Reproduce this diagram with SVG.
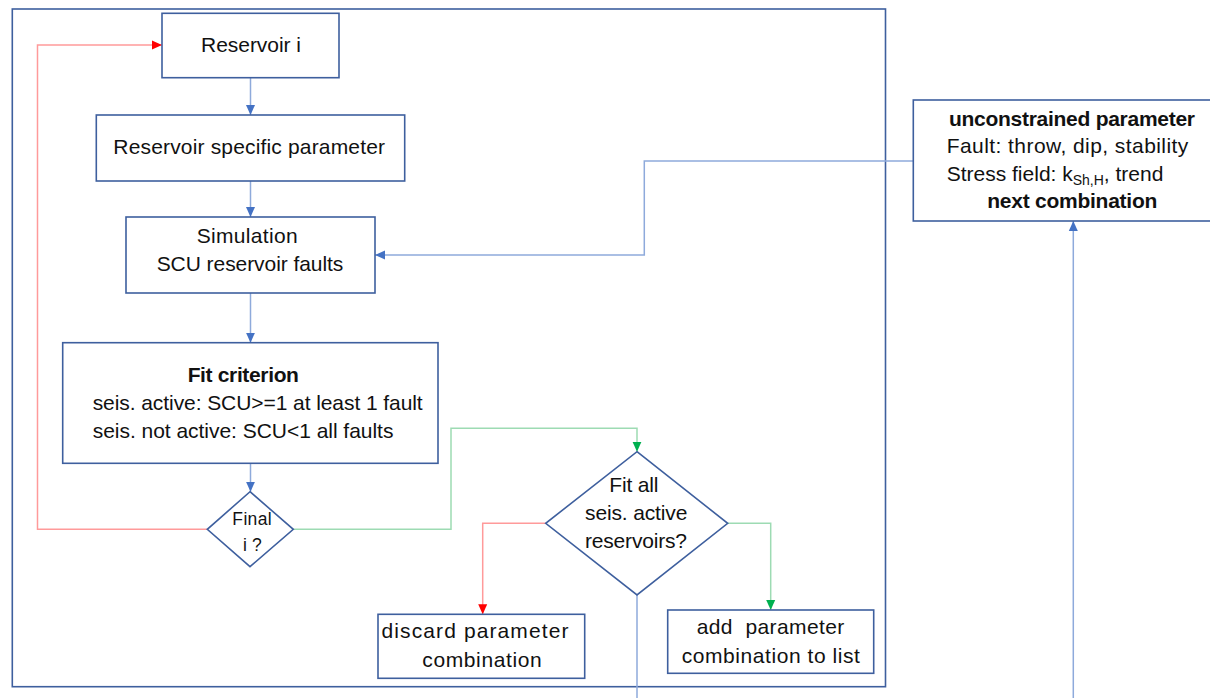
<svg xmlns="http://www.w3.org/2000/svg" width="1210" height="698" viewBox="0 0 1210 698">
<style>
.box{fill:#fff;stroke:#3e5f9e;stroke-width:1.6}
.frame{fill:none;stroke:#3e5f9e;stroke-width:1.6}
.t{font-family:"Liberation Sans",Arial,sans-serif;font-size:21px;fill:#111}
.c{text-anchor:middle}
.b{font-weight:bold}
.blue{fill:none;stroke:#8eaadb;stroke-width:1.5}
.red{fill:none;stroke:#ff9a9a;stroke-width:1.5}
.green{fill:none;stroke:#9ddbb3;stroke-width:1.5}
</style>
<defs>
<marker id="ab" markerUnits="userSpaceOnUse" markerWidth="10" markerHeight="10" viewBox="0 0 10 10" refX="10" refY="5" orient="auto"><path d="M0,0.5 L10,5 L0,9.5z" fill="#4472c4"/></marker>
<marker id="ar" markerUnits="userSpaceOnUse" markerWidth="10" markerHeight="10" viewBox="0 0 10 10" refX="10" refY="5" orient="auto"><path d="M0,0.5 L10,5 L0,9.5z" fill="#ff0000"/></marker>
<marker id="ag" markerUnits="userSpaceOnUse" markerWidth="10" markerHeight="10" viewBox="0 0 10 10" refX="10" refY="5" orient="auto"><path d="M0,0.5 L10,5 L0,9.5z" fill="#00b050"/></marker>
</defs>
<rect width="1210" height="698" fill="#fff"/>
<rect class="frame" x="12.3" y="9" width="873.2" height="677.7"/>

<g id="connectors">
<line class="blue" x1="250.5" y1="78" x2="250.5" y2="115" marker-end="url(#ab)"/>
<line class="blue" x1="250.5" y1="181" x2="250.5" y2="217" marker-end="url(#ab)"/>
<line class="blue" x1="250.5" y1="293" x2="250.5" y2="342.7" marker-end="url(#ab)"/>
<line class="blue" x1="250.5" y1="463.3" x2="250.5" y2="491.7" marker-end="url(#ab)"/>
<polyline class="red" points="207.3,529.3 37.5,529.3 37.5,45 162,45" marker-end="url(#ar)"/>
<polyline class="green" points="293.3,529.3 451,529.3 451,428.3 637,428.3 637,451.7" marker-end="url(#ag)"/>
<polyline class="red" points="545.7,523.3 482.7,523.3 482.7,614.3" marker-end="url(#ar)"/>
<polyline class="green" points="727.7,523.3 770.7,523.3 770.7,610" marker-end="url(#ag)"/>
<polyline class="blue" points="913.3,161 644.3,161 644.3,255 375,255" marker-end="url(#ab)"/>
<line class="blue" x1="637" y1="595" x2="637" y2="698"/>
<line class="blue" x1="1073.3" y1="698" x2="1073.3" y2="221" marker-end="url(#ab)"/>
</g>

<g id="reservoir-i">
<rect class="box" x="162" y="13.3" width="177" height="64.4"/>
<text class="t c" x="251" y="52" textLength="100">Reservoir i</text>
</g>
<g id="reservoir-specific">
<rect class="box" x="96.3" y="115" width="308.4" height="66"/>
<text class="t c" x="249.2" y="154.3" textLength="271.7">Reservoir specific parameter</text>
</g>
<g id="simulation">
<rect class="box" x="126" y="217" width="249" height="76"/>
<text class="t c" x="247.2" y="242.7" textLength="101">Simulation</text>
<text class="t c" x="250" y="271" textLength="186.7">SCU reservoir faults</text>
</g>
<g id="fit-criterion">
<rect class="box" x="62.7" y="342.7" width="375.3" height="120.6"/>
<text class="t c b" x="243.3" y="382.3" textLength="111.3">Fit criterion</text>
<text class="t" x="92.7" y="410" textLength="330">seis. active: SCU&gt;=1 at least 1 fault</text>
<text class="t" x="92.7" y="437.7" textLength="300.7">seis. not active: SCU&lt;1 all faults</text>
</g>
<g id="final-i">
<polygon class="box" points="250,491.7 293.3,529.3 250,566.7 207.3,529.3"/>
<text class="t c" x="252" y="525" style="font-size:17.5px" textLength="39.3">Final</text>
<text class="t c" x="252.3" y="550.7" style="font-size:17.5px" textLength="18.7">i ?</text>
</g>
<g id="fit-all">
<polygon class="box" points="637,451.7 727.7,523.3 637,595 545.7,523.3"/>
<text class="t c" x="633.8" y="491.7" textLength="49">Fit all</text>
<text class="t c" x="636.2" y="520" textLength="102.3">seis. active</text>
<text class="t c" x="636" y="547.7" textLength="102">reservoirs?</text>
</g>
<g id="discard">
<rect class="box" x="378" y="614.3" width="206.7" height="64"/>
<text class="t c" x="475" y="638.3" textLength="187">discard parameter</text>
<text class="t c" x="482" y="666.7" textLength="119.3">combination</text>
</g>
<g id="add">
<rect class="box" x="667.7" y="610" width="206" height="63.3"/>
<text class="t c" x="770.5" y="634.3" textLength="147.6" xml:space="preserve">add  parameter</text>
<text class="t c" x="770.8" y="662.7" textLength="178.3">combination to list</text>
</g>
<g id="unconstrained">
<rect class="box" x="913.3" y="100" width="310" height="121"/>
<text class="t c b" x="1072" y="126" textLength="246">unconstrained parameter</text>
<text class="t c" x="1067.5" y="153.3" textLength="241.6">Fault: throw, dip, stability</text>
<text class="t" x="946.7" y="180.7">Stress field: k<tspan style="font-size:14px" dy="4.5">Sh,H</tspan><tspan dy="-4.5">, trend</tspan></text>
<text class="t c b" x="1072.3" y="208.3" textLength="170">next combination</text>
</g>
</svg>
